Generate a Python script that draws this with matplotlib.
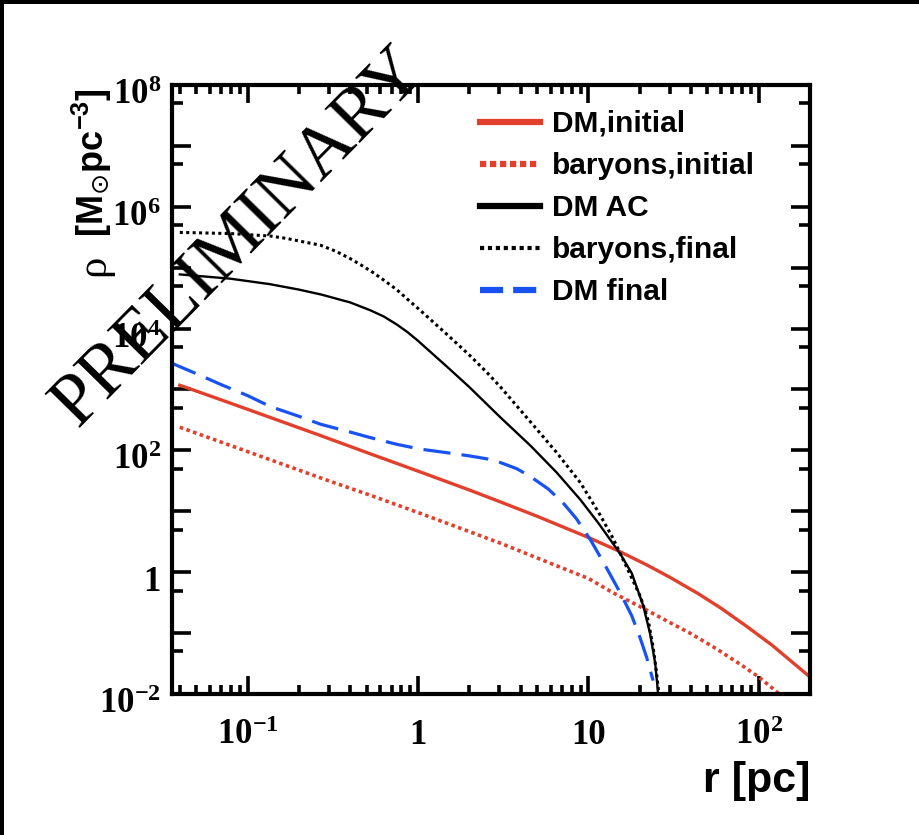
import math
import matplotlib
matplotlib.use('Agg')
import matplotlib.pyplot as plt
import matplotlib.transforms as mtransforms
from matplotlib.lines import Line2D
from matplotlib.patches import Rectangle
from matplotlib.ticker import FixedLocator, LogLocator, NullFormatter

# Perfiles de densidad: r en pc, rho en Msun/pc^3
r_dm_ini = [0.040, 0.07, 0.136, 0.27, 0.53, 1.0, 2.0, 3.0, 5.0, 10, 15, 22, 30, 44, 60, 86, 120, 200]
rho_dm_ini = [1175, 676, 347, 174, 87, 45.7, 22.4, 14.5, 8.3, 3.72, 2.24, 1.32, 0.83, 0.447, 0.257,
              0.126, 0.063, 0.019]

r_bar_ini = [0.040, 0.1, 0.17, 0.3, 0.53, 1.0, 1.78, 3.16, 5.6, 10, 14, 20, 28, 40, 56, 79, 100, 126, 141]
rho_bar_ini = [240, 95.5, 56, 31.6, 18.2, 9.55, 5.25, 2.88, 1.51, 0.79, 0.457, 0.275, 0.166, 0.098,
               0.056, 0.030, 0.019, 0.0112, 0.0085]

r_dm_ac = [0.040, 0.079, 0.135, 0.2, 0.27, 0.4, 0.525, 0.63, 0.75, 0.87, 1.0, 1.5, 2.0, 3.0, 4.57, 6.5,
           8.98, 11.5, 15.4, 18, 21, 23, 24.7, 25.4, 26]
rho_dm_ac = [7.76e4, 6.61e4, 5.37e4, 4.37e4, 3.63e4, 2.69e4, 2.0e4, 1.58e4, 1.17e4, 8.71e3, 6.31e3,
             2.29e3, 1.10e3, 363, 120, 43.7, 15.5, 6.31, 2.0, 0.955, 0.282, 0.1, 0.0316, 0.0141, 0.0063]

r_bar_fin = [0.040, 0.08, 0.136, 0.17, 0.2, 0.268, 0.33, 0.4, 0.46, 0.526, 0.62, 0.75, 0.87, 1.03, 1.5,
             2.03, 2.56, 3.05, 4.57, 6.5, 8.98, 11.5, 14.0, 17.0, 20.2, 22.5, 24.0, 25.0, 25.9, 26.2]
rho_bar_fin = [3.80e5, 3.63e5, 3.31e5, 3.02e5, 2.75e5, 2.34e5, 1.86e5, 1.41e5, 1.12e5, 8.91e4, 6.46e4,
               4.37e4, 3.02e4, 2.0e4, 7.76e3, 3.55e3, 1.86e3, 1.10e3, 295, 93, 29.5, 9.55, 3.55, 1.12,
               0.40, 0.158, 0.059, 0.025, 0.0107, 0.005]

r_dm_fin = [0.0353, 0.05, 0.07, 0.1, 0.136, 0.2, 0.268, 0.4, 0.526, 0.75, 1.03, 1.5, 2.0, 2.56, 3.05,
            3.8, 4.57, 5.8, 7.1, 8.5, 10.3, 12.5, 15.4, 18, 20.2, 22, 24.0]
rho_dm_fin = [2754, 1820, 1202, 794, 525, 363, 269, 200, 162, 126, 105, 91.2, 81.3, 72.4, 63.1, 50.1,
              37.2, 23.4, 13.8, 7.59, 3.39, 1.32, 0.457, 0.191, 0.0813, 0.0398, 0.0166]

labels = ['DM,initial', 'baryons,initial', 'DM AC', 'baryons,final', 'DM final']

x_ticks_lab = [0.1, 1, 10, 100]
y_ticks_lab = [1e-2, 1, 1e2, 1e4, 1e6, 1e8]

red = '#e2402c'
blue = '#1852f2'

W, H = 920, 835
fig = plt.figure(figsize=(W / 100, H / 100), dpi=100)
ax = fig.add_axes([172 / W, 1 - 694 / H, (810 - 172) / W, (694 - 85) / H])

ax.plot(r_dm_ini, rho_dm_ini, color=red, lw=2.4)
ax.plot(r_bar_ini, rho_bar_ini, color=red, lw=2.6, dashes=(1, 0.95))
ax.plot(r_dm_ac, rho_dm_ac, color='black', lw=1.7)
ax.plot(r_bar_fin, rho_bar_fin, color='black', lw=2.2, dashes=(1, 1.1))
ax.plot(r_dm_fin, rho_dm_fin, color=blue, lw=2.3, dashes=(8.5, 3.5))

ax.set_xscale('log')
ax.set_yscale('log')
ax.set_xlim(0.036, 200)
ax.set_ylim(1e-2, 1e8)

for s in ax.spines.values():
    s.set_linewidth(3)

ax.yaxis.set_major_locator(FixedLocator([10.0 ** k for k in range(-2, 9)]))
ax.yaxis.set_minor_locator(FixedLocator([5 * 10.0 ** k for k in range(-2, 8)]))
ax.xaxis.set_major_locator(FixedLocator([10.0 ** k for k in range(-2, 3)]))
ax.xaxis.set_minor_locator(LogLocator(base=10, subs=range(2, 10), numticks=50))
ax.xaxis.set_minor_formatter(NullFormatter())
ax.yaxis.set_minor_formatter(NullFormatter())
ax.tick_params(which='both', direction='in', top=True, right=True, width=2.6,
               labelbottom=False, labelleft=False)
ax.xaxis.set_tick_params(which='major', length=13)
ax.xaxis.set_tick_params(which='minor', length=6.5)
ax.yaxis.set_tick_params(which='major', length=14)
ax.yaxis.set_tick_params(which='minor', length=8)


def dec_label(v):
    e = int(round(math.log10(v)))
    if e == 0:
        return '1'
    if e == 1:
        return '10'
    return r'$\mathdefault{10^{%d}}$' % e


tick_font = dict(family='Liberation Serif', weight='bold', size=25)
ty = mtransforms.blended_transform_factory(ax.transAxes, ax.transData) + \
    mtransforms.ScaledTranslation(-0.11, -0.19, fig.dpi_scale_trans)
for v in y_ticks_lab:
    ax.text(0, v, dec_label(v), transform=ty, ha='right', va='baseline', **tick_font)
tx = mtransforms.blended_transform_factory(ax.transData, ax.transAxes) + \
    mtransforms.ScaledTranslation(0, -0.50, fig.dpi_scale_trans)
for v in x_ticks_lab:
    ax.text(v, 0, dec_label(v), transform=tx, ha='center', va='baseline', **tick_font)

# etiquetas de los ejes
fig.text(810 / W, 1 - 792 / H, 'r [pc]', ha='right', va='baseline',
         family='Liberation Sans', weight='bold', size=31)
fig.text(104 / W, 1 - 276 / H, 'ρ', rotation=90, rotation_mode='anchor', ha='left', va='baseline',
         family='Liberation Serif', size=31)
fig.text(104 / W, 1 - 88 / H, r'[M$_{\odot}$pc$^{\mathdefault{-3}}$]', rotation=90,
         rotation_mode='anchor', ha='right', va='baseline',
         family='Liberation Sans', weight='bold', size=26)

# leyenda
handles = [Line2D([], [], color=red, lw=4.5),
           Line2D([], [], color=red, lw=4.5, dashes=(1, 0.6)),
           Line2D([], [], color='black', lw=4.5),
           Line2D([], [], color='black', lw=3, dashes=(1, 0.9)),
           Line2D([], [], color=blue, lw=4.5, dashes=(3.7, 1.6))]
ax.legend(handles, labels, loc='upper left', bbox_to_anchor=(480 / W, 1 - 110 / H),
          bbox_transform=fig.transFigure, frameon=False, borderpad=0, borderaxespad=0,
          handlelength=2.0, handletextpad=0.4, labelspacing=0.47,
          prop=dict(family='Liberation Sans', weight='bold', size=21.5))

# marca de agua
fig.text(78 / W, 1 - 428 / H, 'PRELIMINARY', rotation=45.5, rotation_mode='anchor',
         ha='left', va='baseline', family='Liberation Serif', size=53, color='black', zorder=10)

# borde negro de la captura
fig.add_artist(Rectangle((0, 1 - 4 / H), 1, 4 / H, transform=fig.transFigure, color='black', lw=0))
fig.add_artist(Rectangle((0, 0), 4 / W, 1, transform=fig.transFigure, color='black', lw=0))

fig.savefig('out.png', dpi=100)
